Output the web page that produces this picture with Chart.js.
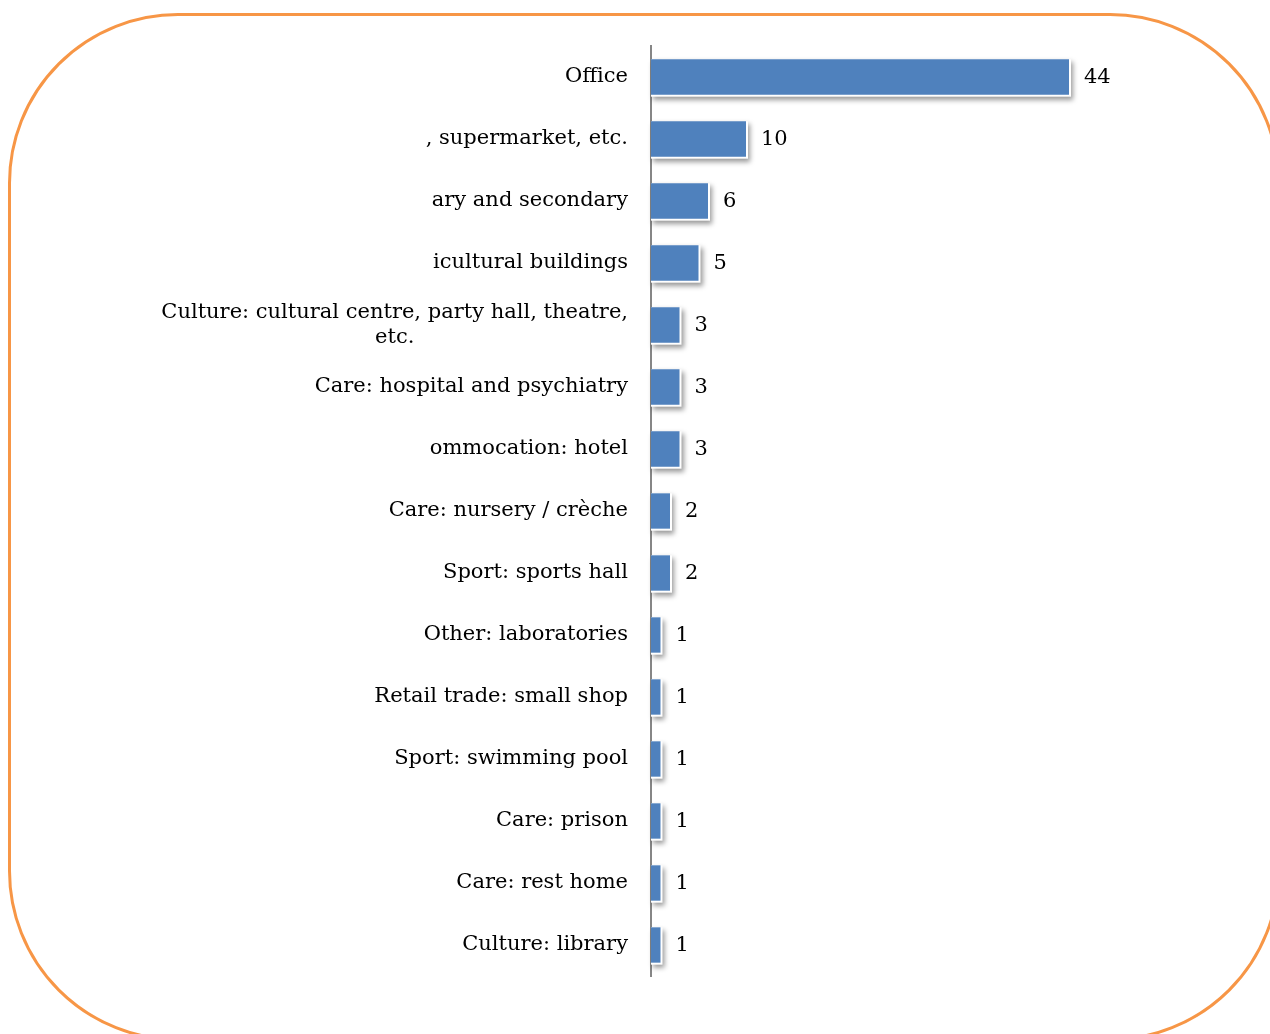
<!DOCTYPE html>
<html>
<head>
<meta charset="utf-8">
<script src="https://cdn.jsdelivr.net/npm/chart.js@4/dist/chart.umd.min.js"></script>
<style>
  html, body { margin: 0; padding: 0; background: #fff; overflow: hidden; }
  #wrap { position: relative; width: 1270px; height: 1034px; overflow: hidden; }
  #frame { position: absolute; left: 8px; top: 13px; width: 1266px; height: 1022px;
           border: 3px solid #F79646; border-radius: 170px; pointer-events: none; }
  #box { position: absolute; left: 0; top: 0; width: 1270px; height: 1034px; }
</style>
</head>
<body>
<div id="wrap">
  <div id="frame"></div>
  <div id="box"><canvas id="c" width="1270" height="1034"></canvas></div>
</div>
<script>
const categories = [
  "Office",
  ", supermarket, etc.",
  "ary and secondary",
  "icultural buildings",
  ["Culture: cultural centre, party hall, theatre,", "etc."],
  "Care: hospital and psychiatry",
  "ommocation: hotel",
  "Care: nursery / crèche",
  "Sport: sports hall",
  "Other: laboratories",
  "Retail trade: small shop",
  "Sport: swimming pool",
  "Care: prison",
  "Care: rest home",
  "Culture: library"
];
const counts = [44, 10, 6, 5, 3, 3, 3, 2, 2, 1, 1, 1, 1, 1, 1];
const xMax = 50;

const FONT = "'DejaVu Serif', serif";
const FONT_SIZE = 21;

// centre the second line of the wrapped label under the first one
const ctxM = document.createElement('canvas').getContext('2d');
ctxM.font = FONT_SIZE + "px " + FONT;
const labels = categories.map(l => {
  if (!Array.isArray(l)) return l;
  const w0 = ctxM.measureText(l[0]).width;
  const out = [l[0]];
  const sp = ctxM.measureText("\u00A0").width;
  for (let i = 1; i < l.length; i++) {
    const wi = ctxM.measureText(l[i]).width;
    const n = Math.round(((w0 - wi) / 2) / sp);
    out.push(l[i] + "\u00A0".repeat(Math.max(0, n)));
  }
  return out;
});

const shadowPlugin = {
  id: 'barShadow',
  beforeDatasetsDraw(chart) {
    const ctx = chart.ctx;
    const meta = chart.getDatasetMeta(0);
    ctx.save();
    ctx.fillStyle = '#ffffff';
    ctx.shadowColor = 'rgba(0,0,0,0.40)';
    ctx.shadowBlur = 5;
    ctx.shadowOffsetX = 2;
    ctx.shadowOffsetY = 3;
    meta.data.forEach(el => {
      const p = el.getProps(['x', 'y', 'base', 'height'], true);
      ctx.fillRect(p.base, p.y - p.height / 2, p.x - p.base + 2, p.height + 2);
    });
    ctx.restore();
  },
  afterDatasetsDraw(chart) {
    const ctx = chart.ctx;
    const meta = chart.getDatasetMeta(0);
    const data = chart.data.datasets[0].data;
    ctx.save();
    ctx.fillStyle = '#000000';
    ctx.font = FONT_SIZE + "px " + FONT;
    ctx.textAlign = 'left';
    ctx.textBaseline = 'middle';
    meta.data.forEach((el, i) => {
      const p = el.getProps(['x', 'y'], true);
      ctx.fillText(String(data[i]), p.x + 15, p.y + 1);
    });
    ctx.restore();
  }
};

new Chart(document.getElementById('c'), {
  type: 'bar',
  data: {
    labels: labels,
    datasets: [{
      data: counts,
      backgroundColor: '#4F81BD',
      borderWidth: 0,
      categoryPercentage: 1.0,
      barPercentage: 0.57
    }]
  },
  options: {
    indexAxis: 'y',
    responsive: false,
    animation: false,
    events: [],
    layout: { padding: { top: 46, bottom: 58, left: 0, right: 144 } },
    plugins: { legend: { display: false }, tooltip: { enabled: false } },
    scales: {
      x: { display: false, min: 0, max: xMax },
      y: {
        z: 1,
        afterFit(scale) { scale.width = 651; },
        grid: { display: false, drawTicks: false },
        border: { display: true, color: '#868686', width: 2 },
        ticks: {
          padding: 23,
          color: '#000000',
          font: { family: FONT, size: FONT_SIZE },
          autoSkip: false
        }
      }
    }
  },
  plugins: [shadowPlugin]
});
</script>
</body>
</html>
